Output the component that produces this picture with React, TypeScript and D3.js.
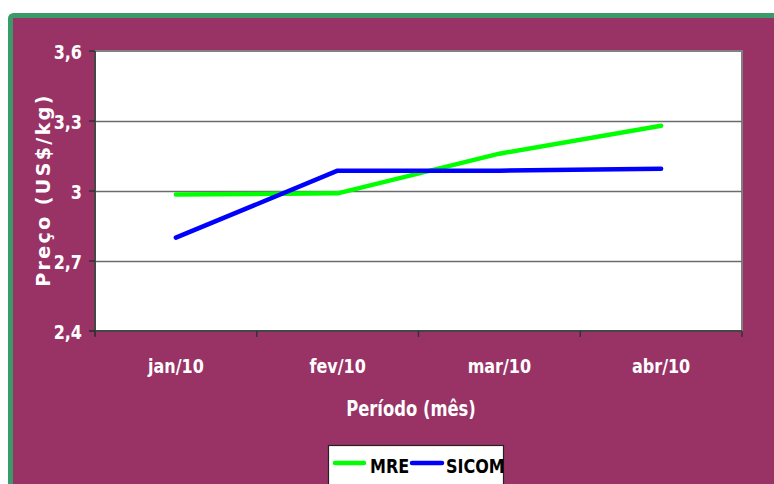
import React from "react";
import * as d3 from "d3";

const categories = ["jan/10", "fev/10", "mar/10", "abr/10"];
const mreValues = [2.985, 2.99, 3.16, 3.28];
const sicomValues = [2.8, 3.087, 3.087, 3.095];
const yTicks = [2.4, 2.7, 3.0, 3.3, 3.6];
const yTickLabels = ["2,4", "2,7", "3", "3,3", "3,6"];
const seriesNames = ["MRE", "SICOM"];
const seriesColors = ["#00ff00", "#0000ff"];

const W = 774;
const H = 484;
const plot = { left: 95, top: 51, right: 742, bottom: 331 };
const FONT = "'DejaVu Sans', sans-serif";
const SX = 0.8;

function T(props: {
  x: number;
  y: number;
  anchor?: string;
  fill?: string;
  size: number;
  rotate?: number;
  spacing?: number;
  children: React.ReactNode;
}) {
  const { x, y, anchor = "start", fill = "#fff", size, rotate = 0, spacing = 0 } = props;
  return (
    <text
      transform={`translate(${x},${y}) rotate(${rotate}) scale(${SX},1)`}
      textAnchor={anchor}
      fill={fill}
      fontFamily={FONT}
      fontWeight="bold"
      fontSize={size}
      letterSpacing={spacing}
    >
      {props.children}
    </text>
  );
}

export default function App() {
  const x = d3
    .scaleBand<string>()
    .domain(categories)
    .range([plot.left, plot.right])
    .padding(0);
  const y = d3.scaleLinear().domain([2.4, 3.6]).range([plot.bottom, plot.top]);
  const line = d3
    .line<number>()
    .x((_, i) => (x(categories[i]) as number) + x.bandwidth() / 2)
    .y((d) => y(d));
  const series = [mreValues, sicomValues];
  const boundaries = categories.map((c) => x(c) as number).concat([plot.right]);

  return (
    <svg
      width={W}
      height={H}
      style={{ position: "absolute", left: 0, top: 0, background: "#fff" }}
    >
      <rect
        x={10.5}
        y={15.5}
        width={800}
        height={520}
        rx={3}
        fill="#993366"
        stroke="#3a9a6a"
        strokeWidth={5}
      />
      <rect
        x={plot.left}
        y={plot.top}
        width={plot.right - plot.left}
        height={plot.bottom - plot.top}
        fill="#ffffff"
        stroke="#808080"
        strokeWidth={2}
      />
      {yTicks.slice(1, -1).map((t) => (
        <line
          key={t}
          x1={plot.left}
          x2={plot.right}
          y1={Math.round(y(t)) + 0.5}
          y2={Math.round(y(t)) + 0.5}
          stroke="#6b6b6b"
          strokeWidth={1.3}
        />
      ))}
      <line x1={plot.left} x2={plot.left} y1={plot.top} y2={plot.bottom + 5} stroke="#333" strokeWidth={1.5} />
      <line x1={plot.left - 6} x2={plot.right} y1={plot.bottom} y2={plot.bottom} stroke="#333" strokeWidth={1.5} />
      {yTicks.map((t, i) => (
        <g key={t}>
          <line
            x1={plot.left - 6}
            x2={plot.left}
            y1={y(t)}
            y2={y(t)}
            stroke="#333"
            strokeWidth={1.5}
          />
          <T x={82} y={y(t) + 7.5} anchor="end" size={20}>
            {yTickLabels[i]}
          </T>
        </g>
      ))}
      {boundaries.map((b, i) => (
        <line key={i} x1={b} x2={b} y1={plot.bottom} y2={plot.bottom + 6} stroke="#333" strokeWidth={1.5} />
      ))}
      {categories.map((c) => (
        <T key={c} x={(x(c) as number) + x.bandwidth() / 2} y={373} anchor="middle" size={20}>
          {c}
        </T>
      ))}
      <T x={411} y={416} anchor="middle" size={20.5}>
        Período (mês)
      </T>
      <text
        transform={`translate(50, 190) rotate(-90)`}
        textAnchor="middle"
        fill="#fff"
        fontFamily={FONT}
        fontWeight="bold"
        fontSize={19}
        letterSpacing={2.4}
      >
        Preço (US$/kg)
      </text>
      {series.map((s, i) => (
        <path
          key={i}
          d={line(s) as string}
          fill="none"
          stroke={seriesColors[i]}
          strokeWidth={4.5}
          strokeLinecap="round"
          strokeLinejoin="round"
        />
      ))}
      <rect x={328.5} y={445.5} width={175} height={60} fill="#fff" stroke="#222" strokeWidth={1.2} />
      <line x1={335} x2={364} y1={463} y2={463} stroke={seriesColors[0]} strokeWidth={4.5} strokeLinecap="round" />
      <T x={370} y={473} fill="#000" size={20}>
        {seriesNames[0]}
      </T>
      <line x1={412} x2={442} y1={463} y2={463} stroke={seriesColors[1]} strokeWidth={4.5} strokeLinecap="round" />
      <T x={446} y={473} fill="#000" size={20}>
        {seriesNames[1]}
      </T>
    </svg>
  );
}
